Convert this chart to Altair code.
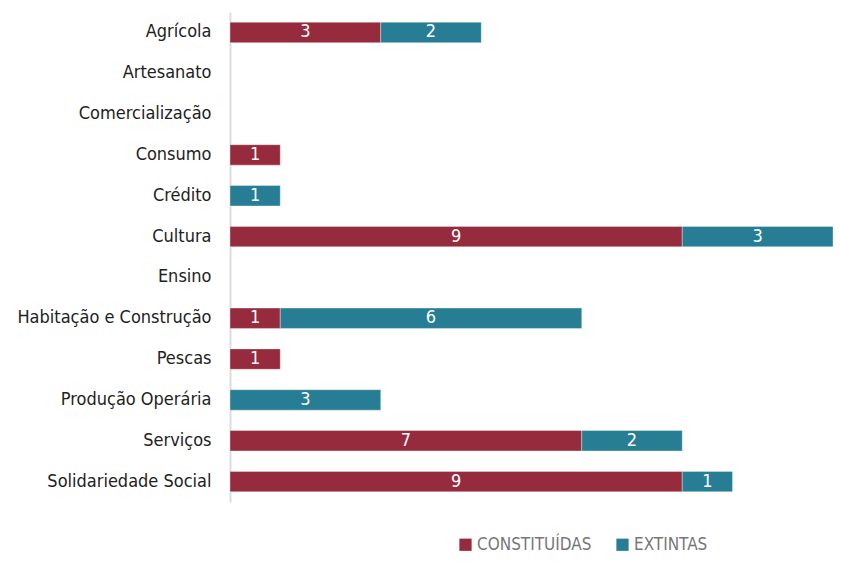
import altair as alt
import pandas as pd

categories = ["Agrícola", "Artesanato", "Comercialização", "Consumo", "Crédito", "Cultura",
              "Ensino", "Habitação e Construção", "Pescas", "Produção Operária", "Serviços",
              "Solidariedade Social"]
constituidas = [3, 0, 0, 1, 0, 9, 0, 1, 1, 0, 7, 9]
extintas = [2, 0, 0, 0, 1, 3, 0, 6, 0, 3, 2, 1]
series = ["CONSTITUÍDAS", "EXTINTAS"]
colors = ["#952b3d", "#267d94"]

rows = []
for i, c in enumerate(categories):
    rows.append({"cat": c, "serie": series[0], "v": constituidas[i], "o": 0})
    rows.append({"cat": c, "serie": series[1], "v": extintas[i], "o": 1})
df = pd.DataFrame(rows)

FONT = "DejaVu Sans Condensed"

base = alt.Chart(df).transform_stack(
    stack="v", groupby=["cat"], as_=["x0", "x1"], sort=[alt.SortField("o")]
).transform_calculate(mid="(datum.x0 + datum.x1) / 2")

yscale = alt.Scale(domain=categories, paddingInner=0.5, paddingOuter=0.25)

y = alt.Y("cat:N", sort=categories, title=None, scale=yscale,
          axis=alt.Axis(ticks=False, labelPadding=19, labelFontSize=18, labelFont=FONT,
                        labelColor="#222222", domainColor="#dddddd", domainWidth=2,
                        labelLimit=300))

bars = base.mark_bar(stroke="white", strokeWidth=0.6, strokeOpacity=0.6).encode(
    x=alt.X("x0:Q", scale=alt.Scale(domain=[0, 12], nice=False), axis=None),
    x2="x1:Q",
    y=y,
    color=alt.Color("serie:N", scale=alt.Scale(domain=series, range=colors),
                    legend=alt.Legend(title=None, orient="none", direction="horizontal",
                                      legendX=227, legendY=524, symbolType="square",
                                      symbolSize=150, symbolStrokeWidth=0, labelFont=FONT,
                                      labelFontSize=17, labelColor="#777777",
                                      columnPadding=22, labelOffset=3)),
).transform_filter("datum.v > 0")

labels = base.mark_text(color="white", font=FONT, fontSize=18, baseline="middle").encode(
    x=alt.X("mid:Q"),
    y=alt.Y("cat:N", sort=categories, scale=yscale),
    text="v:Q",
).transform_filter("datum.v > 0")

chart = (bars + labels).properties(
    width=603, height=490,
    autosize=alt.AutoSizeParams(type="none"),
    padding={"top": 4, "left": 222, "right": 0, "bottom": 52},
).configure_view(stroke=None)

chart.save("out.html", embed_options={"renderer": "svg", "actions": False})
